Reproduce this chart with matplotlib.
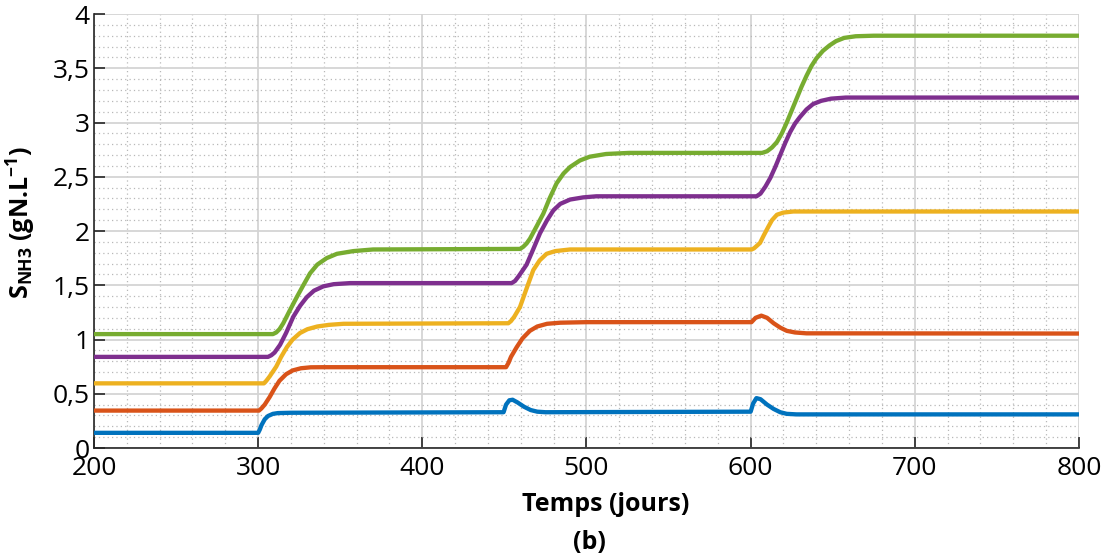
import matplotlib
matplotlib.use("Agg")
import matplotlib.pyplot as plt
from matplotlib.ticker import MultipleLocator, FuncFormatter

# ---- data ----
blue_x = [200, 300, 301, 302, 304, 306, 309, 312, 320, 449.5, 451, 453, 455, 458, 462, 466, 470, 475,
          600, 601.5, 603.5, 606, 610, 614, 618, 622, 628, 800]
blue_y = [0.14, 0.14, 0.17, 0.21, 0.265, 0.295, 0.315, 0.322, 0.325, 0.33, 0.40, 0.44, 0.445, 0.42, 0.38, 0.35,
          0.335, 0.33, 0.335, 0.41, 0.46, 0.45, 0.40, 0.36, 0.33, 0.315, 0.31, 0.31]

orange_x = [200, 300.5, 302, 304, 307, 310, 313, 317, 321, 326, 332, 340, 451, 452.5, 454, 457.5, 461, 465.5, 470,
            476, 484, 500, 600.5, 603, 606.5, 610, 614, 618, 622, 627, 634, 800]
orange_y = [0.345, 0.345, 0.365, 0.40, 0.47, 0.55, 0.62, 0.68, 0.715, 0.735, 0.744, 0.745, 0.745, 0.785, 0.84,
            0.93, 1.01, 1.08, 1.12, 1.145, 1.155, 1.16, 1.16, 1.20, 1.22, 1.20, 1.15, 1.11, 1.08, 1.065, 1.057,
            1.055]

yellow_x = [200, 303.5, 305, 307, 311, 314, 317.5, 321, 325.5, 330, 336, 343, 352, 452.4, 454, 456, 459.5, 463.5,
            467.6, 471.5, 475.7, 481, 490, 600.6, 602, 603.5, 605.7, 608, 610.8, 613, 616, 620, 626, 800]
yellow_y = [0.596, 0.596, 0.62, 0.66, 0.75, 0.84, 0.93, 1.00, 1.06, 1.095, 1.12, 1.135, 1.145, 1.15, 1.17, 1.21,
            1.30, 1.47, 1.64, 1.73, 1.79, 1.815, 1.83, 1.83, 1.84, 1.86, 1.89, 1.96, 2.04, 2.10, 2.15, 2.17,
            2.18, 2.18]

purple_x = [200, 306, 308, 310, 313.3, 317, 321.4, 325.5, 329.6, 334, 339.7, 346, 356, 454.4, 456.5, 459, 463.5,
            467.5, 471.7, 476, 479.8, 484, 490, 498, 506, 603.6, 606, 609, 612, 615, 618, 621, 624, 627, 630,
            634, 638, 643, 649, 658, 800]
purple_y = [0.84, 0.84, 0.855, 0.88, 0.95, 1.06, 1.21, 1.31, 1.39, 1.45, 1.49, 1.51, 1.52, 1.52, 1.54, 1.59,
            1.69, 1.83, 1.98, 2.10, 2.19, 2.25, 2.29, 2.31, 2.32, 2.32, 2.345, 2.41, 2.49, 2.59, 2.70, 2.81,
            2.91, 2.99, 3.05, 3.12, 3.17, 3.20, 3.22, 3.23, 3.23]

green_x = [200, 309, 311, 313, 315.3, 319, 323.5, 327.5, 331.6, 336, 341.7, 348, 358, 370, 459.5, 461.5, 463.5,
           465.6, 469.5, 473.7, 477.5, 481.8, 486, 490, 496, 502, 512, 526, 607, 610, 613, 616, 619, 622, 625,
           628, 631, 634, 637, 640, 644, 648, 652, 657, 664, 675, 800]
green_y = [1.05, 1.05, 1.065, 1.095, 1.15, 1.26, 1.39, 1.50, 1.61, 1.69, 1.75, 1.79, 1.815, 1.83, 1.835, 1.855,
           1.885, 1.93, 2.04, 2.16, 2.30, 2.44, 2.53, 2.59, 2.65, 2.685, 2.71, 2.72, 2.72, 2.735, 2.77, 2.82,
           2.90, 3.00, 3.11, 3.22, 3.33, 3.43, 3.52, 3.59, 3.66, 3.71, 3.75, 3.78, 3.795, 3.80, 3.80]

x_ticks = [200, 300, 400, 500, 600, 700, 800]
y_ticks = [0, 0.5, 1, 1.5, 2, 2.5, 3, 3.5, 4]

series = [
    (blue_x, blue_y, "#0072BD"),
    (orange_x, orange_y, "#D95319"),
    (yellow_x, yellow_y, "#EDB120"),
    (purple_x, purple_y, "#7E2F8E"),
    (green_x, green_y, "#77AC30"),
]

plt.rcParams['font.family'] = ['Open Sans', 'DejaVu Sans']
plt.rcParams['mathtext.fontset'] = 'custom'
plt.rcParams['mathtext.rm'] = 'Open Sans'
plt.rcParams['mathtext.bf'] = 'Open Sans:bold'

fig = plt.figure(figsize=(11.15, 5.56), dpi=100)
ax = fig.add_axes([0.0843, 0.1942, 0.8834, 0.7806])

for xs, ys, c in series:
    ax.plot(xs, ys, color=c, lw=3.1, solid_capstyle='butt', solid_joinstyle='round', zorder=3)

ax.set_xlim(200, 800)
ax.set_ylim(0, 4)
ax.set_xticks(x_ticks)
ax.set_yticks(y_ticks)
ax.xaxis.set_minor_locator(MultipleLocator(20))
ax.yaxis.set_minor_locator(MultipleLocator(0.1))
ax.yaxis.set_major_formatter(FuncFormatter(lambda v, p: ('%g' % v).replace('.', ',')))

ax.grid(which='major', color='#d4d4d4', lw=1.3, ls='-', zorder=1)
ax.grid(which='minor', color='#b8b8b8', lw=0.9, ls=(0, (1, 2.5)), zorder=1)
ax.set_axisbelow(True)

for s in ['top', 'right']:
    ax.spines[s].set_visible(False)
for s in ['left', 'bottom']:
    ax.spines[s].set_color('#262626')
    ax.spines[s].set_linewidth(1.2)

ax.tick_params(which='major', direction='in', length=8, width=1.2, color='#262626',
               labelsize=19, labelcolor='black', pad=3)
ax.tick_params(which='minor', length=0)
ax.tick_params(axis='x', pad=6)

ax.set_xlabel('Temps (jours)', fontsize=18, fontweight='bold')
ax.xaxis.set_label_coords(0.519, -0.131)
ax.xaxis.label.set_va('center')

ax.set_ylabel(r'S$_{\mathbf{NH3}}$ (gN.L$^{\mathbf{-1}}$)', fontsize=18, fontweight='bold')
ax.yaxis.set_label_coords(-0.074, 0.52)
ax.yaxis.label.set_va('center')

fig.text(0.5285, 0.0234, '(b)', ha='center', va='center', fontsize=18, fontweight='bold')

fig.savefig('out.png', dpi=100)
